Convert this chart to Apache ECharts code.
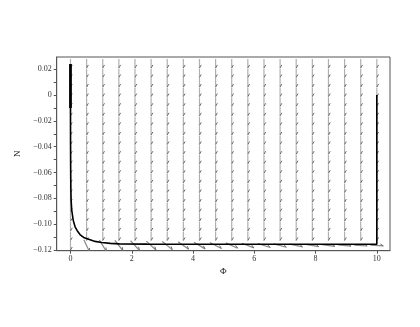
<!DOCTYPE html>
<html>
<head>
<meta charset="utf-8">
<script src="https://cdn.jsdelivr.net/npm/echarts@6/dist/echarts.min.js"></script>
<style>html,body{margin:0;padding:0;background:#fff;}#c{width:420px;height:327px;}</style>
</head>
<body>
<div id="c"></div>
<script>
// Solution curve (Phi, N)
const phiCurve = [0, 0.003, 0.007, 0.012, 0.02, 0.04, 0.09, 0.15, 0.22, 0.31, 0.45, 0.64, 0.8, 1.02, 1.3, 1.6, 2.5, 4, 6, 8, 10, 10];
const nCurve   = [-0.01, -0.04, -0.06, -0.072, -0.081, -0.089, -0.097, -0.102, -0.105, -0.108, -0.1105, -0.112, -0.1133, -0.1142, -0.1148, -0.1152, -0.1154, -0.1155, -0.1155, -0.1155, -0.1155, 0];
// thick oscillating start segment
const phiThick = [0, 0];
const nThick = [0.024, -0.01];
// direction field grid
const fieldPhi = [0, 0.526, 1.053, 1.579, 2.105, 2.632, 3.158, 3.684, 4.211, 4.737, 5.263, 5.789, 6.316, 6.842, 7.368, 7.895, 8.421, 8.947, 9.474, 10];
const fieldN = [-0.1165, -0.1091, -0.1017, -0.0942, -0.0868, -0.0794, -0.0720, -0.0645, -0.0571, -0.0497, -0.0423, -0.0348, -0.0274, -0.0200, -0.0126, -0.0052, 0.0023, 0.0097, 0.0171, 0.0245];
// arrow angle (degrees below horizontal) in the bottom row; other rows point straight down
const bottomRowAngles = [90, 65, 58, 52, 47, 43, 39, 35, 31, 27, 24, 21, 18, 15, 12, 10, 8, 6, 4, 3];
const otherRowAngle = 90;
// tick labels
const xTicks = [0, 2, 4, 6, 8, 10];
const yTicks = [-0.12, -0.1, -0.08, -0.06, -0.04, -0.02, 0, 0.02];
const yMinorTicks = [-0.12, -0.11, -0.1, -0.09, -0.08, -0.07, -0.06, -0.05, -0.04, -0.03, -0.02, -0.01, 0, 0.01, 0.02];

const fieldData = [];
fieldN.forEach((n, j) => {
  fieldPhi.forEach((p, i) => {
    fieldData.push([p, n, j === 0 ? bottomRowAngles[i] : otherRowAngle]);
  });
});

const chart = echarts.init(document.getElementById('c'), null, {renderer: 'canvas'});
const font = 'Liberation Serif, Times New Roman, serif';
chart.setOption({
  animation: false,
  backgroundColor: '#fff',
  grid: {left: 56.7, right: 30, top: 57, bottom: 76.3, show: true, borderColor: '#555', borderWidth: 1},
  xAxis: {
    type: 'value', min: -0.45, max: 10.43,
    name: 'Φ', nameLocation: 'middle', nameGap: 15,
    nameTextStyle: {fontFamily: font, fontSize: 9, color: '#222'},
    axisLine: {show: true, onZero: false, lineStyle: {color: '#555'}},
    axisTick: {show: true, customValues: xTicks, length: 3, lineStyle: {color: '#555'}},
    axisLabel: {customValues: xTicks, fontFamily: font, fontSize: 8, color: '#333', margin: 4},
    splitLine: {show: false}
  },
  yAxis: {
    type: 'value', min: -0.1205, max: 0.0295,
    name: 'N', nameLocation: 'middle', nameGap: 34, nameRotate: 90,
    nameTextStyle: {fontFamily: font, fontSize: 9, color: '#222'},
    axisLine: {show: true, onZero: false, lineStyle: {color: '#555'}},
    axisTick: {show: true, customValues: yMinorTicks, length: 3, lineStyle: {color: '#555'}},
    axisLabel: {customValues: yTicks, fontFamily: font, fontSize: 8, color: '#333', margin: 5,
      formatter: v => Math.abs(v) < 1e-9 ? '0' : (v < 0 ? '\u2212' + Math.abs(v).toFixed(2) : v.toFixed(2))},
    splitLine: {show: false}
  },
  series: [
    {
      type: 'custom', clip: true, z: 1,
      data: fieldData,
      renderItem: function (params, api) {
        const p = api.coord([api.value(0), api.value(1)]);
        const a = api.value(2) * Math.PI / 180;
        const vertical = api.value(2) >= 89;
        const L = vertical ? 9 : 13;
        const ux = Math.cos(a), uy = Math.sin(a);
        const x1 = p[0] - ux * L / 2, y1 = p[1] - uy * L / 2;
        const x2 = p[0] + ux * L / 2, y2 = p[1] + uy * L / 2;
        const th = 30 * Math.PI / 180;
        const bx = -ux, by = -uy;
        const rx = bx * Math.cos(th) - by * Math.sin(th);
        const ry = bx * Math.sin(th) + by * Math.cos(th);
        const bl = 3.5;
        return {
          type: 'group',
          children: [
            {type: 'line', shape: {x1: x1, y1: y1, x2: x2, y2: y2}, style: {stroke: vertical ? '#b0b0b0' : '#888', lineWidth: 1.2}},
            {type: 'line', shape: {x1: x2, y1: y2, x2: x2 + rx * bl, y2: y2 + ry * bl}, style: {stroke: '#6a6a6a', lineWidth: 1}}
          ]
        };
      }
    },
    {
      type: 'line', z: 3, symbol: 'none', smooth: false,
      data: phiCurve.map((p, i) => [p, nCurve[i]]),
      lineStyle: {color: '#000', width: 1.6}
    },
    {
      type: 'line', z: 3, symbol: 'none',
      data: phiThick.map((p, i) => [p, nThick[i]]),
      lineStyle: {color: '#000', width: 2.8}
    }
  ]
});
</script>
</body>
</html>
